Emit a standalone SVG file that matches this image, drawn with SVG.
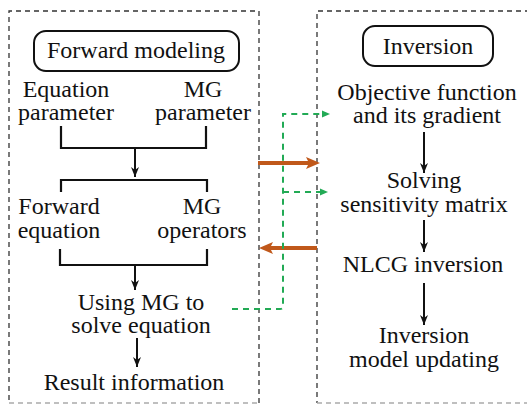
<svg xmlns="http://www.w3.org/2000/svg" width="527" height="405" viewBox="0 0 527 405">
<defs>
<marker id="ah" viewBox="0 0 10 10" refX="10" refY="5" markerWidth="5" markerHeight="5" orient="auto" markerUnits="strokeWidth"><path d="M0,1 L10,5 L0,9 L3,5 Z" fill="#111"/></marker>
</defs>
<g id="forward-panel" fill="none" stroke-width="1.3" stroke-dasharray="5,4">
<path stroke="#333" d="M259,403 L259,11 L9,11 L9,403"/>
<path stroke="#aaa" d="M9,403 L259,403"/>
</g>
<g id="inversion-panel" fill="none" stroke-width="1.3" stroke-dasharray="5,4">
<path stroke="#333" d="M530,11 L317,11 L317,403"/>
<path stroke="#aaa" d="M317,403 L530,403"/>
</g>
<g id="forward-title"><rect x="34" y="31" width="205" height="40" rx="12" fill="#fff" stroke="#111" stroke-width="2"/><text x="136" y="58" font-family="Liberation Serif" font-size="24" fill="#111" text-anchor="middle">Forward modeling</text></g>
<g id="eq-param"><text x="66" y="97" font-family="Liberation Serif" font-size="24" fill="#111" text-anchor="middle">Equation</text><text x="66" y="120" font-family="Liberation Serif" font-size="24" fill="#111" text-anchor="middle">parameter</text></g>
<g id="mg-param"><text x="203" y="97" font-family="Liberation Serif" font-size="24" fill="#111" text-anchor="middle">MG</text><text x="203" y="120" font-family="Liberation Serif" font-size="24" fill="#111" text-anchor="middle">parameter</text></g>
<g id="fwd-eq"><text x="59" y="214" font-family="Liberation Serif" font-size="24" fill="#111" text-anchor="middle">Forward</text><text x="59" y="238" font-family="Liberation Serif" font-size="24" fill="#111" text-anchor="middle">equation</text></g>
<g id="mg-op"><text x="202" y="214" font-family="Liberation Serif" font-size="24" fill="#111" text-anchor="middle">MG</text><text x="202" y="238" font-family="Liberation Serif" font-size="24" fill="#111" text-anchor="middle">operators</text></g>
<g id="using-mg"><text x="141" y="310" font-family="Liberation Serif" font-size="24" fill="#111" text-anchor="middle">Using MG to</text><text x="141" y="333" font-family="Liberation Serif" font-size="24" fill="#111" text-anchor="middle">solve equation</text></g>
<g id="result"><text x="134" y="390" font-family="Liberation Serif" font-size="24" fill="#111" text-anchor="middle">Result information</text></g>
<g id="inv-title"><rect x="363" y="26" width="130" height="40" rx="12" fill="#fff" stroke="#111" stroke-width="2"/><text x="428" y="54" font-family="Liberation Serif" font-size="24" fill="#111" text-anchor="middle">Inversion</text></g>
<g id="objective"><text x="427" y="100" font-family="Liberation Serif" font-size="24" fill="#111" text-anchor="middle">Objective function</text><text x="427" y="123" font-family="Liberation Serif" font-size="24" fill="#111" text-anchor="middle">and its gradient</text></g>
<g id="sensitivity"><text x="424" y="188" font-family="Liberation Serif" font-size="24" fill="#111" text-anchor="middle">Solving</text><text x="424" y="212" font-family="Liberation Serif" font-size="24" fill="#111" text-anchor="middle">sensitivity matrix</text></g>
<g id="nlcg"><text x="423" y="272" font-family="Liberation Serif" font-size="24" fill="#111" text-anchor="middle">NLCG inversion</text></g>
<g id="update"><text x="424" y="343" font-family="Liberation Serif" font-size="24" fill="#111" text-anchor="middle">Inversion</text><text x="424" y="367" font-family="Liberation Serif" font-size="24" fill="#111" text-anchor="middle">model updating</text></g>
<g id="connectors">
<g fill="none" stroke="#111" stroke-width="2.2">
<path d="M61,126 L61,148 L206,148 L206,126"/>
<path d="M61,192 L61,180 L207,180 L207,192"/>
<path d="M60,249 L60,265 L207,265 L207,249"/>
</g>
<g fill="none" stroke="#111" stroke-width="2" marker-end="url(#ah)">
<path d="M135,148 L135,177"/>
<path d="M135,265 L135,290"/>
<path d="M137,338 L137,367"/>
<path d="M424,132 L424,173"/>
<path d="M424,220 L424,252"/>
<path d="M424,283 L424,325"/>
</g>
<path d="M258,163 L310,163" fill="none" stroke="#c0581a" stroke-width="4"/><polygon points="306,157 320,163 306,169 309,163" fill="#c0581a"/>
<path d="M317,248 L269,248" fill="none" stroke="#c0581a" stroke-width="4"/><polygon points="273,242 259,248 273,254 270,248" fill="#c0581a"/>
<path d="M232,309 L280,309 Q283,309 283,306 L283,114 L322,114" fill="none" stroke="#22aa55" stroke-width="2" stroke-dasharray="6,5"/><polygon points="322,110.5 330,114 322,117.5" fill="#22aa55"/>
<path d="M283,192 L320,192" fill="none" stroke="#22aa55" stroke-width="2" stroke-dasharray="6,5"/><polygon points="320,188.5 328,192 320,195.5" fill="#22aa55"/>
</g>
</svg>
